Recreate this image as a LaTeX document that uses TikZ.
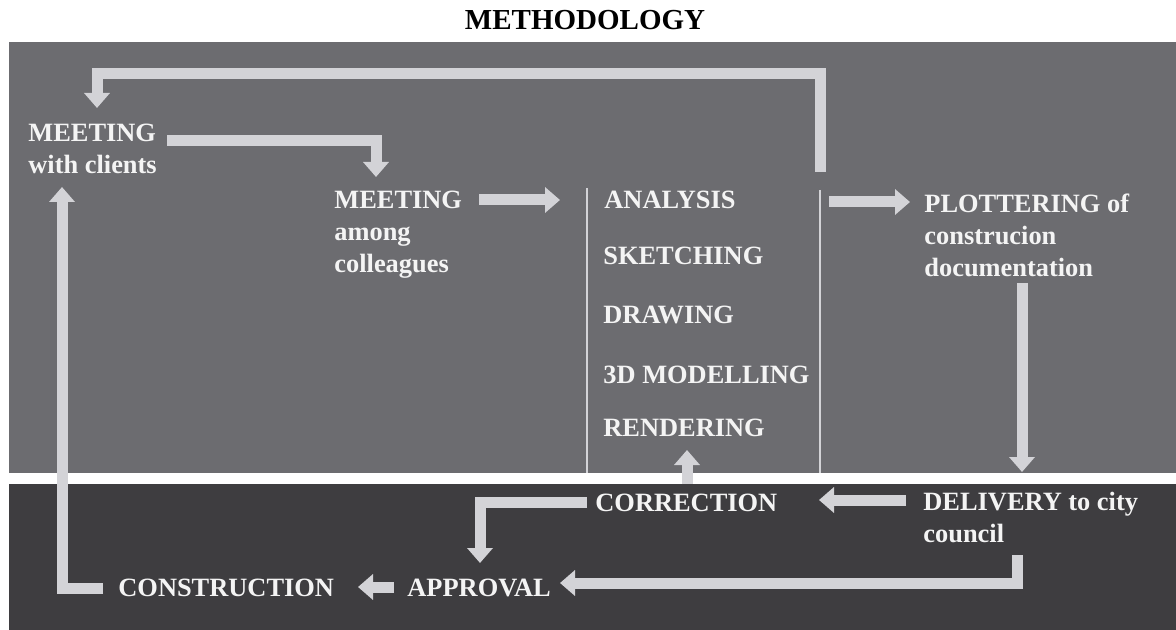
\documentclass[tikz,border=0pt]{standalone}
\usepackage{fontspec}
\setmainfont{Liberation Serif}
\usetikzlibrary{arrows.meta}
\definecolor{bggrey}{HTML}{6C6C70}
\definecolor{bgdark}{HTML}{3E3D40}
\definecolor{arr}{HTML}{D3D3D7}
\definecolor{txt}{HTML}{F4F4F4}
\begin{document}
\begin{tikzpicture}[x=0.5pt,y=-0.5pt,
  lbl/.style={text=txt, font=\fontsize{13.2}{16}\selectfont\bfseries, inner sep=0pt, align=left, anchor=base west},
  flow/.style={draw=arr, line width=5.5pt, line join=miter, -{Triangle[width=12.5pt,length=7.5pt]}},
  rulel/.style={draw=arr, line width=1pt}]
\useasboundingbox (0,0) rectangle (1176,630);
\fill[white] (0,0) rectangle (1176,630);
\fill[bggrey] (9,42) rectangle (1176,473);
\fill[bgdark] (9,484) rectangle (1176,630);

% title
\node[font=\fontsize{14.5}{17}\selectfont\bfseries, text=black, inner sep=0pt, anchor=base] (title) at (585,30) {METHODOLOGY};

% labels (multi-line nodes anchored at the baseline of their last line)
\node[lbl] (mwc) at (28,174) {MEETING\\with clients};
\node[lbl] (mac) at (334,273) {MEETING\\among\\colleagues};
\node[lbl] (ana) at (604,209) {ANALYSIS};
\node[lbl] (ske) at (603,265) {SKETCHING};
\node[lbl] (dra) at (603,323) {DRAWING};
\node[lbl] (mod) at (603,383) {3D MODELLING};
\node[lbl] (ren) at (603,436) {RENDERING};
\node[lbl] (plo) at (924,277) {PLOTTERING of\\construcion\\documentation};
\node[lbl] (cor) at (595,511) {CORRECTION};
\node[lbl] (del) at (923,542) {DELIVERY to city\\council};
\node[lbl] (app) at (407,596) {APPROVAL};
\node[lbl] (con) at (118,596) {CONSTRUCTION};

% column rules
\coordinate (rl1) at (587,188); \coordinate (rl2) at (587,473);
\coordinate (rr1) at (820,190); \coordinate (rr2) at (820,473);
\draw[rulel] (rl1) -- (rl2);
\draw[rulel] (rr1) -- (rr2);

% connector end points
\coordinate (loopS) at (820,172);
\coordinate (loopA) at (820,74);
\coordinate (loopB) at (97,74);
\coordinate (loopE) at (97,108);
\coordinate (m1S) at (167,141);
\coordinate (m1A) at (376,141);
\coordinate (m1E) at (376,177);
\coordinate (m2S) at (479,200);
\coordinate (m2E) at (560,200);
\coordinate (p1S) at (829,202);
\coordinate (p1E) at (910,202);
\coordinate (p2S) at (1022,283);
\coordinate (p2E) at (1022,472);
\coordinate (d1S) at (906,500);
\coordinate (d1E) at (819,500);
\coordinate (c1S) at (687,484);
\coordinate (c1E) at (687,450);
\coordinate (c2S) at (587,502);
\coordinate (c2A) at (480,502);
\coordinate (c2E) at (480,563);
\coordinate (d2S) at (1017,555);
\coordinate (d2A) at (1017,583);
\coordinate (d2E) at (560,583);
\coordinate (a1S) at (394,587);
\coordinate (a1E) at (358,587);
\coordinate (k1S) at (103,588);
\coordinate (k1A) at (62,588);
\coordinate (k1E) at (62,187);

% connectors
\draw[flow] (loopS) -- (loopA) -- (loopB) -- (loopE);
\draw[flow] (m1S) -- (m1A) -- (m1E);
\draw[flow] (m2S) -- (m2E);
\draw[flow] (p1S) -- (p1E);
\draw[flow] (p2S) -- (p2E);
\draw[flow] (d1S) -- (d1E);
\draw[flow] (c1S) -- (c1E);
\draw[flow] (c2S) -- (c2A) -- (c2E);
\draw[flow] (d2S) -- (d2A) -- (d2E);
\draw[flow] (a1S) -- (a1E);
\draw[flow] (k1S) -- (k1A) -- (k1E);
\end{tikzpicture}
\end{document}
